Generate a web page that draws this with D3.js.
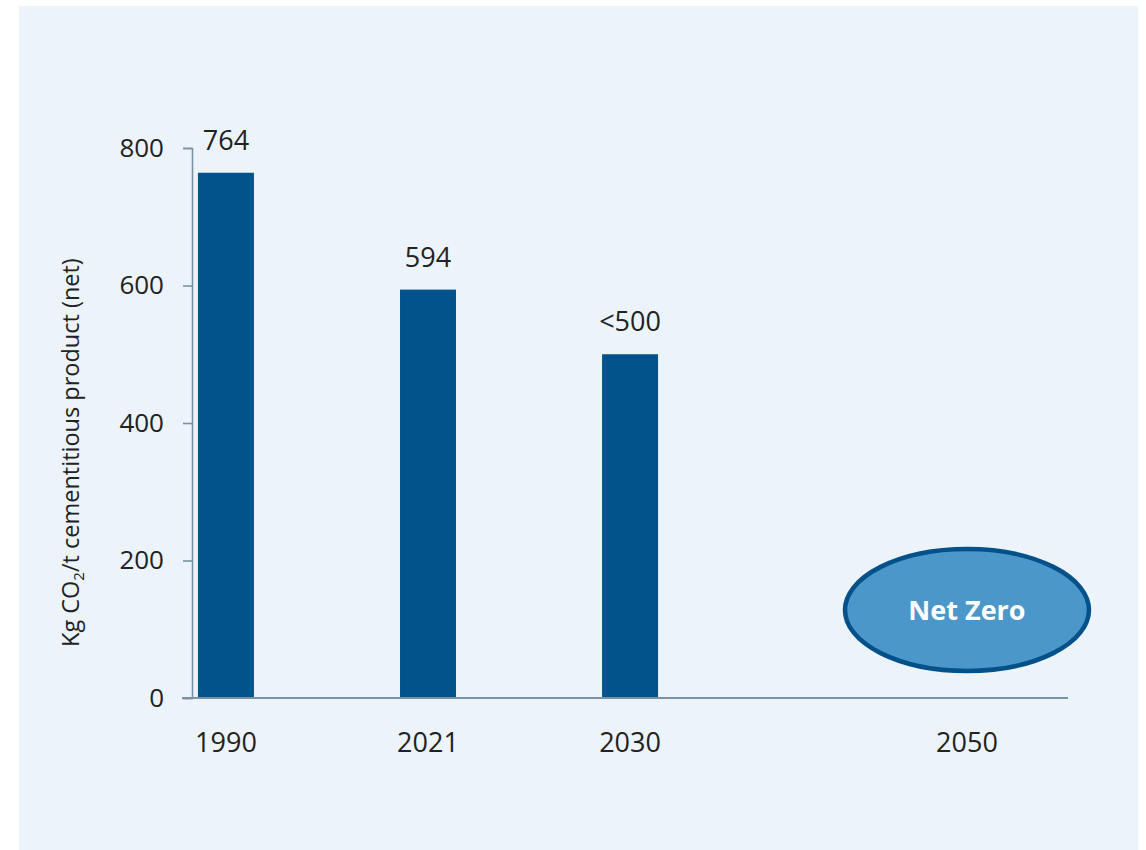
<!DOCTYPE html>
<html>
<head>
<meta charset="utf-8">
<script src="https://cdn.jsdelivr.net/npm/d3@7/dist/d3.min.js"></script>
<style>
  html, body { margin: 0; padding: 0; background: #ffffff; }
  svg { display: block; font-family: "Open Sans", "Noto Sans", sans-serif; }
</style>
</head>
<body>
<svg id="chart" width="1146" height="850"></svg>
<script>
// ---- data ----
const barCategories = ["1990", "2021", "2030"];
const barValues = [764, 594, 500];
const barLabels = ["764", "594", "<500"];
const targetCategory = "2050";
const targetLabel = "Net Zero";
const targetValue = 128;          // vertical centre of the "Net Zero" bubble, in axis units
const yTicks = [0, 200, 400, 600, 800];
const yTitle = "Kg CO";
const yTitleSub = "2";
const yTitleRest = "/t cementitious product (net)";

// ---- layout ----
const W = 1146, H = 850;
const plot = { left: 182, right: 1068, top: 148, bottom: 698 };
const axisX = 192;

const svg = d3.select("#chart");

// background panel
svg.append("rect")
  .attr("x", 19).attr("y", 6)
  .attr("width", 1119).attr("height", 844)
  .attr("fill", "#ecf3fa");

const y = d3.scaleLinear().domain([0, 800]).range([plot.bottom, plot.top]);

const x = d3.scaleBand()
  .domain(barCategories)
  .range([plot.left, 674])
  .paddingInner(0.723)
  .paddingOuter(0.079);

// position for the 2050 target: half a category step in from the plot's right end
const xTarget = plot.right - x.step() / 2;

// bars
svg.append("g").selectAll("rect")
  .data(barValues)
  .join("rect")
  .attr("x", (d, i) => x(barCategories[i]))
  .attr("y", d => y(d))
  .attr("width", x.bandwidth())
  .attr("height", d => y(0) - y(d))
  .attr("fill", "#02538b");

// value labels
svg.append("g").selectAll("text")
  .data(barValues)
  .join("text")
  .attr("x", (d, i) => x(barCategories[i]) + x.bandwidth() / 2)
  .attr("y", d => y(d) - 23)
  .attr("text-anchor", "middle")
  .attr("font-size", 27)
  .attr("fill", "#222")
  .text((d, i) => barLabels[i]);

// y axis
const yAxis = d3.axisLeft(y)
  .tickValues(yTicks)
  .tickSize(9)
  .tickSizeOuter(9)
  .tickPadding(19);
const gy = svg.append("g")
  .attr("transform", `translate(${axisX},0)`)
  .call(yAxis);
gy.select(".domain").attr("stroke", "#7a93a4").attr("stroke-width", 1.6);
gy.selectAll(".tick line").attr("stroke", "#7a93a4").attr("stroke-width", 1.6);
gy.selectAll(".tick text")
  .attr("font-size", 26)
  .attr("font-family", "Open Sans, Noto Sans, sans-serif")
  .attr("fill", "#222");

// x axis baseline
svg.append("line")
  .attr("x1", plot.left).attr("x2", plot.right)
  .attr("y1", y(0)).attr("y2", y(0))
  .attr("stroke", "#7a93a4").attr("stroke-width", 1.8);

// x category labels
const xLabelData = barCategories.map(c => ({ c, px: x(c) + x.bandwidth() / 2 }))
  .concat([{ c: targetCategory, px: xTarget }]);
svg.append("g").selectAll("text")
  .data(xLabelData)
  .join("text")
  .attr("x", d => d.px)
  .attr("y", 752)
  .attr("text-anchor", "middle")
  .attr("font-size", 27)
  .attr("fill", "#222")
  .text(d => d.c);

// Net Zero bubble
const bubble = svg.append("g");
bubble.append("ellipse")
  .attr("cx", xTarget).attr("cy", y(targetValue))
  .attr("rx", 122).attr("ry", 61)
  .attr("fill", "#4b97c9")
  .attr("stroke", "#03518a")
  .attr("stroke-width", 4.5);
bubble.append("text")
  .attr("x", xTarget).attr("y", y(targetValue) + 10)
  .attr("text-anchor", "middle")
  .attr("font-size", 27)
  .attr("font-weight", "bold")
  .attr("fill", "#ffffff")
  .text(targetLabel);

// y title
const yt = svg.append("text")
  .attr("transform", "translate(79,647) rotate(-90)")
  .attr("text-anchor", "start")
  .attr("font-size", 23.5)
  .attr("fill", "#222");
yt.append("tspan").text(yTitle);
yt.append("tspan").attr("dy", 5).attr("font-size", 15).text(yTitleSub);
yt.append("tspan").attr("dy", -5).text(yTitleRest);
</script>
</body>
</html>
